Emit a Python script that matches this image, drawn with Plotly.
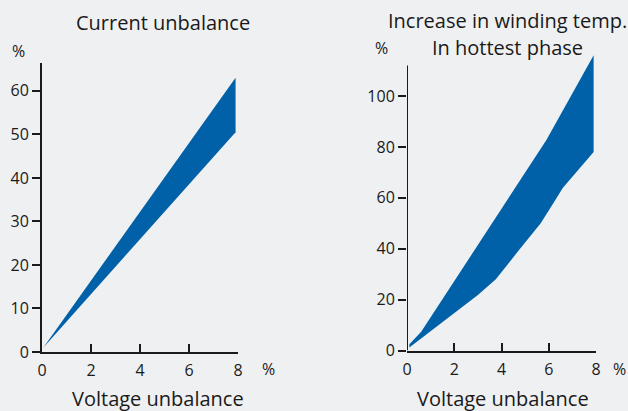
import plotly.graph_objects as go

# ---- data ----
x_ticks = [0, 2, 4, 6, 8]
cur_y_ticks = [0, 10, 20, 30, 40, 50, 60]
temp_y_ticks = [0, 20, 40, 60, 80, 100]

cur_x = [0.05, 7.9]
cur_upper = [1.0, 63.0]
cur_lower = [1.0, 50.5]

temp_upper_x = [0.1, 0.6, 5.9, 7.9]
temp_upper = [2.5, 7.4, 82.7, 116.0]
temp_lower_x = [0.1, 1.0, 2.0, 3.0, 3.76, 4.7, 5.66, 6.2, 6.6, 7.9]
temp_lower = [1.2, 7.8, 14.8, 21.8, 28.0, 39.0, 50.0, 58.0, 64.0, 78.0]

BLUE = "#0061A8"
BG = "#EFF0F2"
INK = "#1a1a1a"
FONT = "Open Sans"

W, H = 628, 411


def px_x(p):
    return p / W


def px_y(p):
    return 1 - p / H


fig = go.Figure()

fig.add_trace(go.Scatter(
    x=cur_x + cur_x[::-1], y=cur_upper + cur_lower[::-1],
    fill="toself", fillcolor=BLUE, mode="lines", line=dict(width=0, color=BLUE),
    xaxis="x", yaxis="y", showlegend=False, hoverinfo="skip"))

fig.add_trace(go.Scatter(
    x=temp_upper_x + temp_lower_x[::-1], y=temp_upper + temp_lower[::-1],
    fill="toself", fillcolor=BLUE, mode="lines", line=dict(width=0, color=BLUE),
    xaxis="x2", yaxis="y2", showlegend=False, hoverinfo="skip"))

tickfont = dict(family=FONT, size=16, color=INK)

common_x = dict(tickvals=x_ticks, ticks="inside", ticklen=8, tickwidth=1.5, tickcolor=INK,
                showline=True, linecolor=INK, linewidth=2, showgrid=False, zeroline=False,
                tickfont=tickfont, ticklabelstandoff=3, fixedrange=True, automargin=False)
common_y = dict(ticks="outside", ticklen=8, tickwidth=1.5, tickcolor=INK,
                showgrid=False, zeroline=False, tickfont=tickfont, fixedrange=True,
                automargin=False)

# left subplot: x 0->42px, 8->238px ; y 0->352px, top of axis at 63px
fig.update_layout(
    xaxis=dict(domain=[px_x(42), px_x(238)], range=[0, 8], anchor="y", **common_x),
    yaxis=dict(domain=[px_y(352), px_y(63)], range=[0, 66.4], anchor="x",
               tickvals=cur_y_ticks, showline=True, linecolor=INK, linewidth=2, **common_y),
    xaxis2=dict(domain=[px_x(407), px_x(596)], range=[0, 8], anchor="y2", **common_x),
    yaxis2=dict(domain=[px_y(350.6), px_y(50)], range=[0, (350.6 - 50) / 2.546], anchor="x2",
                tickvals=temp_y_ticks, showline=False, **common_y),
)

# right y-axis line (shorter than the plotted band)
fig.add_shape(type="line", xref="x2", yref="y2", x0=0, x1=0, y0=0, y1=112,
              line=dict(color=INK, width=2))

ann_font = dict(family=FONT, size=20, color=INK)
small_font = dict(family=FONT, size=16, color=INK)
annotations = [
    dict(text="Current unbalance", x=px_x(163), y=px_y(22), font=ann_font),
    dict(text="Voltage unbalance", x=px_x(158), y=px_y(398), font=ann_font),
    dict(text="Increase in winding temp.", x=px_x(507), y=px_y(20), font=ann_font),
    dict(text="In hottest phase", x=px_x(507), y=px_y(48), font=ann_font),
    dict(text="Voltage unbalance", x=px_x(503), y=px_y(398), font=ann_font),
    dict(text="%", x=px_x(18), y=px_y(51), font=small_font),
    dict(text="%", x=px_x(268), y=px_y(369), font=small_font),
    dict(text="%", x=px_x(381), y=px_y(48), font=small_font),
    dict(text="%", x=px_x(619), y=px_y(369), font=small_font),
]
for a in annotations:
    a.update(xref="paper", yref="paper", showarrow=False, xanchor="center", yanchor="middle")
fig.update_layout(annotations=annotations)

fig.update_layout(width=W, height=H, margin=dict(l=0, r=0, t=0, b=0),
                  paper_bgcolor=BG, plot_bgcolor=BG, showlegend=False)

fig.write_html("out.html", config={"displayModeBar": False},
               post_script="document.body.style.margin='0';document.body.style.overflow='hidden';")
